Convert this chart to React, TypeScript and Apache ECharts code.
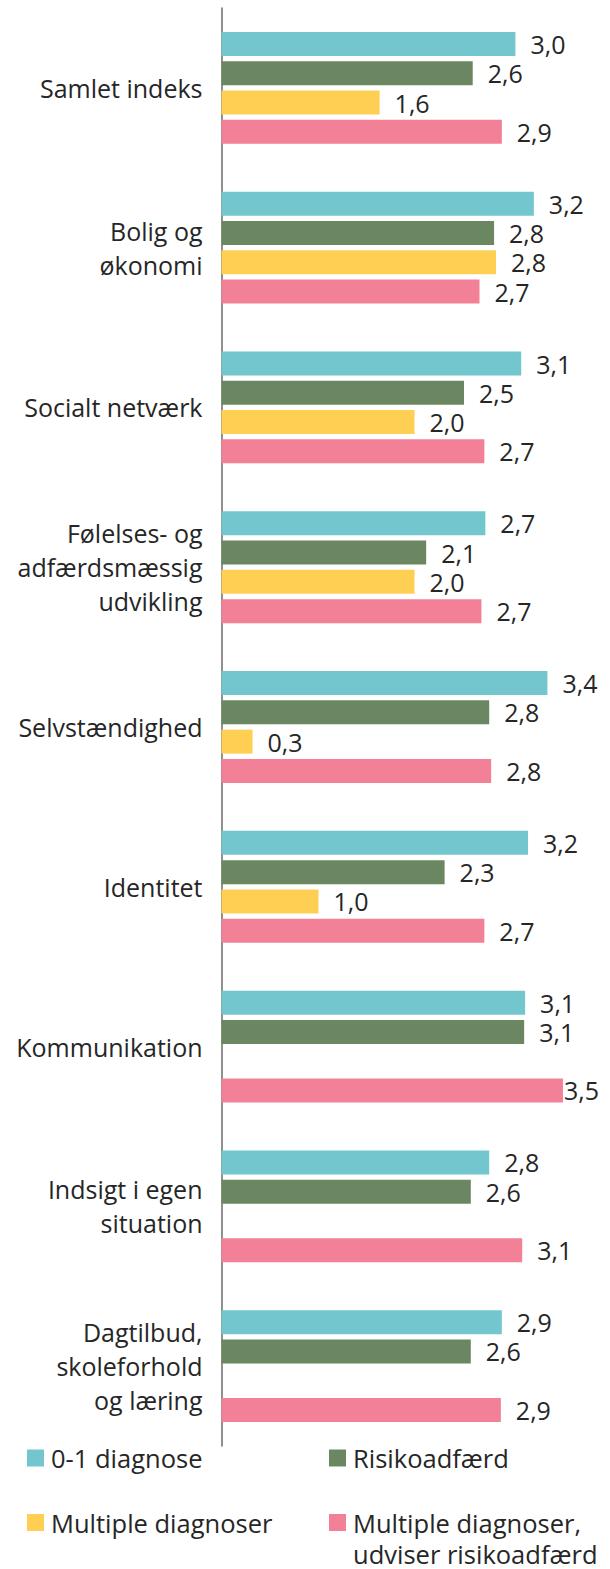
import React, { useEffect, useRef } from "react";
import * as echarts from "echarts";

const categories = [
  "Samlet indeks",
  "Bolig og\nøkonomi",
  "Socialt netværk",
  "Følelses- og\nadfærdsmæssig\nudvikling",
  "Selvstændighed",
  "Identitet",
  "Kommunikation",
  "Indsigt i egen\nsituation",
  "Dagtilbud,\nskoleforhold\nog læring",
];

const seriesNames = [
  "0-1 diagnose",
  "Risikoadfærd",
  "Multiple diagnoser",
  "Multiple diagnoser, udviser risikoadfærd",
];

const diag01 = [3.03, 3.22, 3.09, 2.72, 3.36, 3.16, 3.13, 2.76, 2.89];
const risiko = [2.59, 2.81, 2.5, 2.11, 2.76, 2.3, 3.12, 2.57, 2.57];
const multiple = [1.63, 2.83, 1.99, 1.99, 0.32, 1.0, null, null, null];
const multipleRisiko = [2.89, 2.66, 2.71, 2.68, 2.78, 2.71, 3.52, 3.1, 2.88];

const colors = ["#74C6CE", "#6B8762", "#FFCF54", "#F28198"];

const FONT = "Open Sans";
const TEXT = "#262626";

export default function App() {
  const ref = useRef<HTMLDivElement>(null);

  useEffect(() => {
    document.body.style.margin = "0";
    const chart = echarts.init(ref.current!, null, { renderer: "svg" });

    const fmt = (p: any) => Number(p.value).toFixed(1).replace(".", ",");

    const labelBase = {
      show: true,
      position: "right",
      distance: 15,
      fontSize: 25,
      lineHeight: 27,
      color: TEXT,
      fontFamily: FONT,
      formatter: fmt,
    };

    const allData = [diag01, risiko, multiple, multipleRisiko];

    const series = allData.map((arr, si) => ({
      name: seriesNames[si],
      type: "bar",
      barWidth: 24,
      barGap: "22%",
      itemStyle: { color: colors[si] },
      label: labelBase,
      data: arr.map((v, i) =>
        si === 3 && i === 6 ? { value: v, label: { distance: 1 } } : v
      ),
    }));

    const legendCommon = {
      orient: "horizontal",
      padding: 0,
      itemWidth: 17,
      itemHeight: 17,
      itemGap: 0,
      icon: "rect",
      selectedMode: false,
      textStyle: {
        fontSize: 25.5,
        color: TEXT,
        fontFamily: FONT,
        lineHeight: 29,
        padding: [0, 0, 0, 2],
      },
    };

    chart.setOption({
      animation: false,
      grid: {
        left: 221.5,
        width: 349.2,
        top: 8,
        height: 1438,
        outerBoundsMode: "none",
      },
      xAxis: {
        type: "value",
        min: 0,
        max: 3.6,
        axisLine: { show: false },
        axisTick: { show: false },
        axisLabel: { show: false },
        splitLine: { show: false },
      },
      yAxis: {
        type: "category",
        inverse: true,
        data: categories,
        axisLine: { show: true, lineStyle: { color: "#6b6b6b", width: 1.5 } },
        axisTick: { show: false },
        axisLabel: {
          margin: 19,
          fontSize: 25,
          lineHeight: 34,
          color: TEXT,
          fontFamily: FONT,
          align: "right",
        },
      },
      legend: [
        { ...legendCommon, data: [seriesNames[0]], left: 27, top: 1443.5 },
        { ...legendCommon, data: [seriesNames[1]], left: 329, top: 1443.5 },
        { ...legendCommon, data: [seriesNames[2]], left: 27, top: 1508 },
        {
          ...legendCommon,
          data: [seriesNames[3]],
          left: 329,
          top: 1476,
          formatter: () => "\nMultiple diagnoser,\nudviser risikoadfærd",
          textStyle: {
            ...legendCommon.textStyle,
            lineHeight: 31,
          },
        },
      ],
      series,
    });

    return () => chart.dispose();
  }, []);

  return <div ref={ref} style={{ width: 610, height: 1569 }} />;
}
